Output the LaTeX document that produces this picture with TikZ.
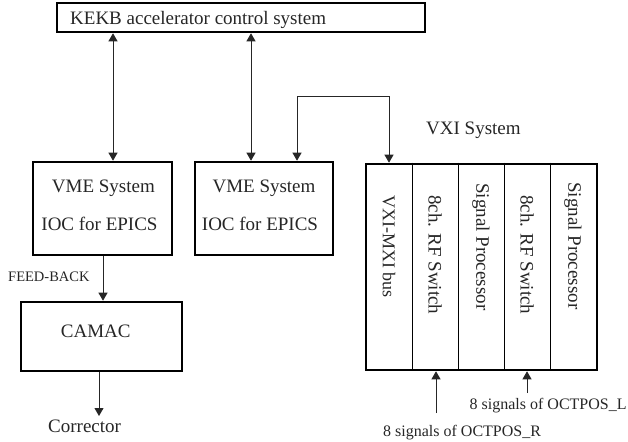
\documentclass[tikz,border=0pt]{standalone}
\usepackage{fontspec}
\setmainfont{Liberation Serif}
\usetikzlibrary{arrows.meta}

\tikzset{
  box/.style={draw=black, line width=2.6pt, inner sep=0pt},
  conn/.style={draw=black!85, line width=0.9pt, arrows={-Triangle[length=8pt,width=9pt]}},
  dblconn/.style={conn, arrows={Triangle[length=8pt,width=9pt]-Triangle[length=8pt,width=9pt]}},
  slot/.style={draw=black, line width=0.9pt},
  lbl/.style={inner sep=0pt, text=black!85, font=\fontsize{19}{21}\selectfont},
  small/.style={inner sep=0pt, text=black!85, font=\fontsize{14.5}{16}\selectfont},
  sig/.style={inner sep=0pt, text=black!85, font=\fontsize{16}{18}\selectfont},
  vert/.style={lbl, rotate=-90, anchor=west}
}

\begin{document}
\begin{tikzpicture}[x=1pt, y=-1pt]
\useasboundingbox (0,0) rectangle (628,441);

% control system bar
\node[box, minimum width=368pt, minimum height=29pt] (kekb) at (241,17.5) {};
\node[lbl, anchor=base west] (kekbtxt) at (70,25) {KEKB accelerator control system};

% VME crates
\node[box, minimum width=139pt, minimum height=93pt] (vme1) at (102.5,208.5) {};
\node[lbl, anchor=base] (vme1a) at (103.4,192) {VME System};
\node[lbl, anchor=base] (vme1b) at (99.5,230) {IOC for EPICS};

\node[box, minimum width=138pt, minimum height=93pt] (vme2) at (264,208.5) {};
\node[lbl, anchor=base] (vme2a) at (264,192) {VME System};
\node[lbl, anchor=base] (vme2b) at (260,230) {IOC for EPICS};

% CAMAC crate
\node[box, minimum width=161pt, minimum height=69pt] (camac) at (101.5,336.5) {};
\node[lbl, anchor=base] (camactxt) at (95.8,337) {CAMAC};
\node[small, anchor=base west] (fb) at (8,281) {FEED-BACK};
\node[lbl, anchor=base west] (corr) at (48,432) {Corrector};
\coordinate (corrin) at (99,416);

% VXI crate with its five modules
\node[lbl, anchor=base west] (vxititle) at (426,134) {VXI System};
\node[box, minimum width=231pt, minimum height=206pt] (vxi) at (481.5,267) {};
\foreach \x in {412,458,504,550}
  \draw[slot] (\x,0 |- vxi.north) -- (\x,0 |- vxi.south);
\node[vert, font=\fontsize{18}{20}\selectfont] (m1) at (389,195) {VXI-MXI bus};
\node[vert] (m2) at (435,195) {8ch. RF Switch};
\node[vert] (m3) at (481,183) {Signal Processor};
\node[vert] (m4) at (527,195) {8ch. RF Switch};
\node[vert] (m5) at (573,182) {Signal Processor};

% signal inputs
\node[sig, anchor=base west] (octl) at (469.5,409) {8 signals of OCTPOS\_L};
\node[sig, anchor=base west] (octr) at (383,436) {8 signals of OCTPOS\_R};
\coordinate (rin) at (436,413);
\coordinate (lin) at (527,393);

% connectors
\draw[dblconn] (113,0 |- kekb.south) -- (113,0 |- vme1.north);
\draw[dblconn] (251,0 |- kekb.south) -- (251,0 |- vme2.north);
\draw[dblconn] (297,0 |- vme2.north) -- (297,96) -| (389,0 |- vxi.north);
\draw[conn] (103,0 |- vme1.south) -- (103,0 |- camac.north);
\draw[conn] (corrin |- camac.south) -- (corrin);
\draw[conn] (rin) -- (rin |- vxi.south);
\draw[conn] (lin) -- (lin |- vxi.south);
\end{tikzpicture}
\end{document}
